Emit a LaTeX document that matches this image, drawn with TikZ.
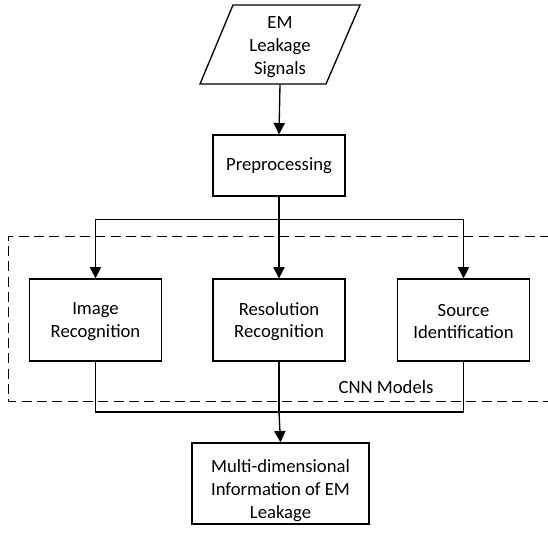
\documentclass[tikz,border=0pt]{standalone}
\usepackage{fontspec}
\setmainfont{Carlito}
\usetikzlibrary{arrows.meta}
\begin{document}
\begin{tikzpicture}[x=0.75pt,y=-0.75pt,
  line width=1pt,
  txt/.style={font=\fontsize{14}{17}\selectfont, align=center, inner sep=0pt},
  box/.style={draw, line width=1pt, minimum width=99pt, minimum height=61.5pt, inner sep=0pt},
  arr/.style={-{Triangle[width=8.5pt,length=8.5pt]}},
  grp/.style={dash pattern=on 7.5pt off 4pt, line width=0.75pt}
]
\useasboundingbox (0,0) rectangle (548,534);
% input parallelogram
\draw (233,5) -- (360,5) -- (326,84) -- (200,84) -- cycle;
\node[minimum width=95pt, minimum height=59pt, inner sep=0pt] (em) at (280,44.5) {};
\node[txt] (emtxt) at (280,47) {EM\\Leakage\\Signals};
% preprocessing
\node[box, minimum height=45.75pt] (pre) at (279,165.5) {};
\node[txt] (pretxt) at (279,166) {Preprocessing};
% group box
\draw[grp] (550,236) -- (8,236) -- (8,401) -- (550,401);
\node[txt] (cnn) at (386,387) {CNN Models};
% models
\node[box] (img) at (95.5,320) {};
\node[box] (res) at (279,320) {};
\node[box] (src) at (463.5,320) {};
\node[txt] (imgtxt) at (95.5,321.5) {Image\\Recognition};
\node[txt] (restxt) at (279,321.5) {Resolution\\Recognition};
\node[txt] (srctxt) at (463.5,321.5) {Source\\Identification};
% output
\node[box, minimum width=132.75pt, minimum height=60.75pt] (out) at (280.5,483.5) {};
\node[txt] (outtxt) at (280.5,490.5) {Multi-dimensional\\Information of EM\\Leakage};
\coordinate (split) at (279,219.5);
\coordinate (join) at (279,412);
% connectors
\draw[arr] (em.south) -- (pre.north);
\draw (pre.south) -- (split);
\draw[arr] (split) -| (img.north);
\draw[arr] (split) -- (res.north);
\draw[arr] (split) -| (src.north);
\draw (img.south) |- (join);
\draw (src.south) |- (join);
\draw (res.south) -- (join);
\draw[arr] (join) -- (out.north);
\end{tikzpicture}
\end{document}
